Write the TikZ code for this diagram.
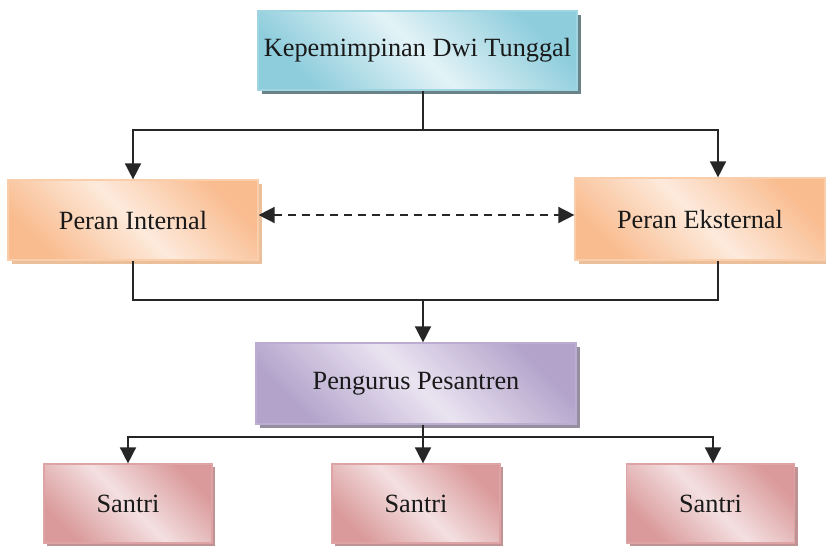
\documentclass[tikz,border=0pt]{standalone}
\usepackage{fontspec}
\setmainfont{Liberation Serif}
\usetikzlibrary{arrows.meta,shadows}

\definecolor{biruTua}{HTML}{8ECDDC}
\definecolor{biruMuda}{HTML}{E3F3F7}
\definecolor{oranyeTua}{HTML}{F9BC8F}
\definecolor{oranyeMuda}{HTML}{FDEADC}
\definecolor{unguTua}{HTML}{B3A3CB}
\definecolor{unguMuda}{HTML}{EAE4F1}
\definecolor{merahTua}{HTML}{DA9A9B}
\definecolor{merahMuda}{HTML}{F4E0E1}

\tikzset{
  kotak/.style={rectangle, line width=1.2pt, inner sep=0pt,
    font=\fontsize{26.3}{30}\selectfont, text=black!90},
  biru/.style={kotak, draw=biruTua!85, top color=biruTua, bottom color=biruTua,
    middle color=biruMuda, shading angle=-45,
    drop shadow={shadow xshift=4pt, shadow yshift=-4pt, opacity=1, fill=black!35!biruTua!60!gray}},
  oranye/.style={kotak, draw=oranyeTua!75, top color=oranyeTua, bottom color=oranyeTua,
    middle color=oranyeMuda, shading angle=-45,
    drop shadow={shadow xshift=4pt, shadow yshift=-4pt, opacity=1, fill=oranyeTua!60!brown!70}},
  ungu/.style={kotak, draw=unguTua!90, top color=unguTua, bottom color=unguTua,
    middle color=unguMuda, shading angle=-45,
    drop shadow={shadow xshift=4pt, shadow yshift=-4pt, opacity=1, fill=unguTua!40!gray}},
  merah/.style={kotak, draw=merahTua!90, top color=merahTua, bottom color=merahTua,
    middle color=merahMuda, shading angle=-45,
    drop shadow={shadow xshift=3pt, shadow yshift=-3pt, opacity=1, fill=merahTua!70!gray}},
  garis/.style={line width=1.6pt, black!85},
  panah/.style={garis, -{Triangle[length=16pt,width=16pt]}},
}

\begin{document}
\begin{tikzpicture}[x=1pt,y=-1pt]

\useasboundingbox (0,0) rectangle (826,547);

% kotak-kotak
\node[biru, minimum width=319pt, minimum height=79pt] (kdt) at (417.5,50.5) {Kepemimpinan Dwi Tunggal};

\node[oranye, minimum width=250pt, minimum height=80pt] (internal) at (133,220) {Peran Internal};
\node[oranye, minimum width=250pt, minimum height=82pt] (eksternal) at (700,219) {Peran Eksternal};

\node[ungu, minimum width=320pt, minimum height=81pt] (pengurus) at (416,383.5) {Pengurus Pesantren};

\foreach \x/\nama in {128/santriA,416/santriB,710.5/santriC}
{
\node[merah, minimum width=168pt, minimum height=79pt] (\nama) at (\x,503.5) {Santri};
}

% titik bantu
\coordinate (atas) at (423,130);
\coordinate (kanan) at (718,130);
\coordinate (tengah) at (423,300);
\coordinate (bawah) at (423,437);
\coordinate (ujung) at (713,437);

% dari atas ke peran
\draw[garis] (kdt.south -| atas) -- (atas);
\draw[panah] (atas) -| (internal.north);
\draw[panah] (atas) -- (kanan) -- (kanan |- eksternal.north);

\draw[garis, dashed, dash pattern=on 8pt off 6pt, {Triangle[length=16pt,width=16pt]}-{Triangle[length=16pt,width=16pt]}]
  (internal.east |- 0,215) -- (eksternal.west |- 0,215);

% dari peran ke pengurus
\draw[garis] (internal.south) |- (tengah) -| (kanan |- eksternal.south);
\draw[panah] (tengah) -- (pengurus.north -| tengah);

% dari pengurus ke santri
\draw[garis] (pengurus.south -| bawah) -- (bawah);
\draw[panah] (bawah) -| (santriA.north);
\draw[panah] (bawah) -- (santriB.north -| bawah);
\draw[panah] (bawah) -- (ujung) -- (ujung |- santriC.north);

\end{tikzpicture}
\end{document}
